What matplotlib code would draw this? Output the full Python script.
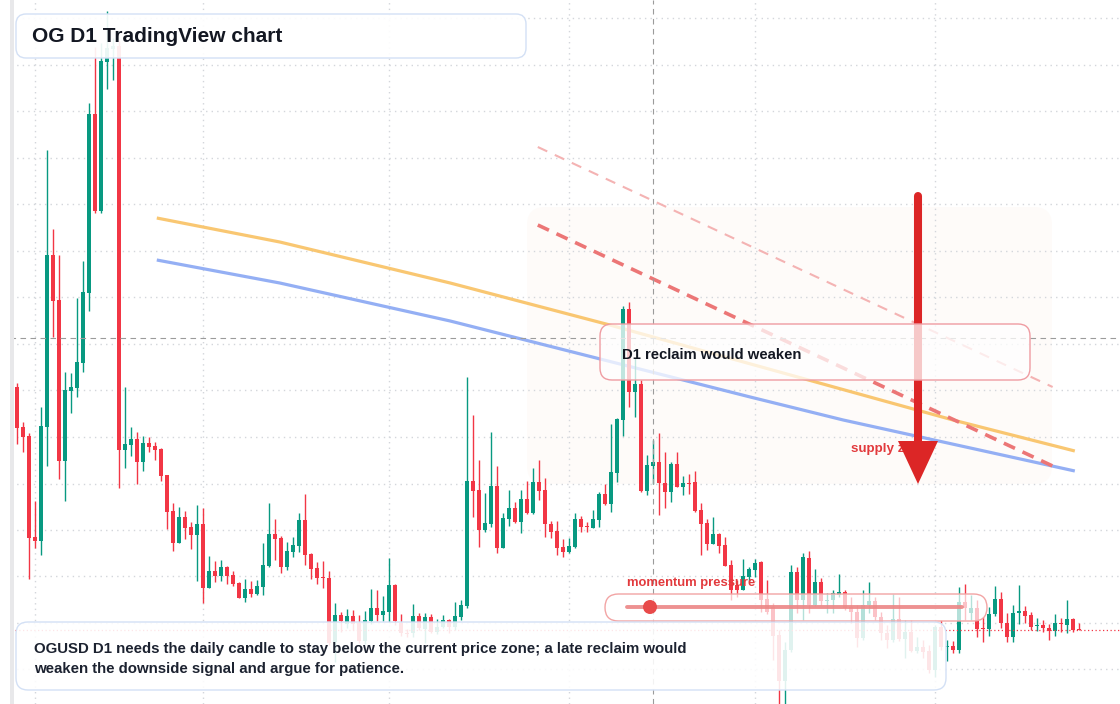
import matplotlib
matplotlib.use("Agg")
import numpy as np
import matplotlib.pyplot as plt
from matplotlib.patches import FancyBboxPatch, Polygon, Rectangle, Circle
from matplotlib.transforms import Affine2D

# OGUSD daily candles (oldest -> newest)
opens = [
    10.13, 9.73, 9.64, 8.63, 8.59, 9.73, 11.45, 11.00, 9.39, 10.09,
    10.12, 10.37, 11.07, 12.86, 11.89, 13.38, 13.51, 13.54, 9.50, 9.55,
    9.61, 9.38, 9.57, 9.54, 9.51, 9.25, 8.89, 8.57, 8.83, 8.73,
    8.65, 8.76, 8.12, 8.29, 8.24, 8.33, 8.25, 8.17, 8.02, 8.11,
    8.06, 8.13, 8.34, 8.66, 8.62, 8.33, 8.48, 8.54, 8.80, 8.46,
    8.32, 8.23, 8.22, 7.58, 7.85, 7.76, 7.84, 7.77, 7.59, 7.79,
    7.92, 7.85, 7.88, 8.15, 7.77, 7.67, 7.67, 7.84, 7.71, 7.83,
    7.68, 7.73, 7.80, 7.73, 7.83, 7.94, 9.19, 9.10, 8.70, 8.76,
    9.14, 8.52, 8.81, 8.92, 8.78, 9.01, 8.87, 9.18, 9.10, 8.76,
    8.69, 8.53, 8.48, 8.53, 8.81, 8.74, 8.72, 8.80, 9.06, 8.96,
    9.27, 9.80, 10.91, 10.08, 10.16, 9.09, 9.34, 9.38, 9.17, 9.08,
    9.36, 9.13, 9.17, 9.18, 8.90, 8.77, 8.56, 8.66, 8.55, 8.35,
    8.15, 8.10, 8.23, 8.30, 8.38, 8.01, 7.93, 7.65, 7.19, 7.50,
    8.28, 8.00, 8.42, 7.95, 8.18, 7.99, 8.00, 8.05, 8.08, 7.93,
    7.88, 7.62, 7.95, 7.99, 7.83, 7.67, 7.60, 7.81, 7.61, 7.68,
    7.49, 7.53, 7.49, 7.30, 7.73, 7.53, 7.54, 7.50, 7.98, 7.87,
    7.92, 7.72, 7.71, 7.86, 8.01, 7.77, 7.63, 7.87, 7.89, 7.85,
    7.74, 7.75, 7.72, 7.69, 7.77, 7.75, 7.81, 7.71,
]
highs = [
    10.17, 9.78, 9.67, 8.99, 9.93, 12.50, 11.71, 11.45, 10.28, 10.27,
    11.02, 11.39, 12.97, 13.53, 13.57, 13.89, 13.62, 13.60, 10.13, 9.73,
    9.68, 9.64, 9.63, 9.58, 9.52, 9.25, 8.97, 8.93, 8.89, 8.78,
    8.95, 8.92, 8.44, 8.39, 8.40, 8.34, 8.29, 8.18, 8.21, 8.19,
    8.20, 8.57, 8.97, 8.81, 8.64, 8.58, 8.63, 8.87, 9.06, 8.47,
    8.38, 8.39, 8.29, 7.97, 7.88, 7.91, 7.90, 7.85, 7.89, 8.11,
    8.10, 8.04, 8.42, 8.16, 7.86, 7.71, 7.96, 7.87, 7.87, 7.86,
    7.81, 7.85, 7.81, 7.98, 8.00, 10.23, 9.85, 9.40, 9.07, 9.68,
    9.34, 8.87, 9.10, 8.98, 9.10, 9.19, 9.32, 9.40, 9.22, 8.79,
    8.79, 8.61, 8.62, 8.87, 8.84, 8.78, 8.90, 9.08, 9.16, 9.76,
    9.82, 10.94, 10.98, 10.42, 10.20, 9.45, 9.60, 9.67, 9.48, 9.38,
    9.48, 9.24, 9.26, 9.29, 8.97, 8.81, 8.83, 8.67, 8.63, 8.40,
    8.20, 8.41, 8.33, 8.41, 8.39, 8.20, 7.97, 7.70, 7.58, 8.35,
    8.33, 8.47, 8.49, 8.31, 8.22, 8.07, 8.10, 8.26, 8.10, 8.03,
    7.95, 8.10, 8.18, 8.03, 7.88, 7.75, 8.06, 8.03, 7.80, 7.80,
    7.63, 7.60, 7.55, 7.75, 7.80, 7.60, 7.59, 8.13, 8.16, 8.05,
    8.00, 7.83, 7.93, 8.14, 8.08, 7.87, 7.95, 8.15, 7.94, 7.88,
    7.82, 7.80, 7.76, 7.86, 7.82, 8.00, 7.82, 7.77,
]
lows = [
    9.56, 9.48, 8.21, 8.52, 8.45, 9.34, 10.63, 9.21, 8.99, 9.87,
    10.03, 10.28, 10.89, 11.87, 11.87, 13.11, 13.20, 9.12, 9.32, 9.44,
    9.16, 9.29, 9.48, 9.40, 9.19, 8.71, 8.49, 8.57, 8.61, 8.51,
    8.19, 7.97, 8.12, 8.18, 8.19, 8.16, 8.14, 8.02, 7.98, 8.03,
    8.05, 8.05, 8.33, 8.40, 8.27, 8.30, 8.43, 8.48, 8.35, 8.21,
    8.16, 8.12, 7.55, 7.38, 7.68, 7.72, 7.70, 7.57, 7.56, 7.76,
    7.79, 7.79, 7.78, 7.75, 7.64, 7.63, 7.63, 7.70, 7.57, 7.67,
    7.66, 7.72, 7.67, 7.70, 7.80, 7.92, 8.83, 8.53, 8.68, 8.73,
    8.47, 8.52, 8.74, 8.77, 8.67, 8.86, 8.86, 9.00, 8.63, 8.62,
    8.45, 8.43, 8.47, 8.52, 8.68, 8.68, 8.72, 8.73, 8.95, 8.88,
    9.18, 9.64, 9.93, 9.83, 9.08, 9.05, 9.16, 8.85, 8.92, 8.98,
    9.13, 9.05, 9.06, 8.88, 8.45, 8.50, 8.56, 8.47, 8.34, 8.00,
    8.03, 8.10, 8.19, 8.23, 7.88, 7.86, 7.40, 6.90, 6.90, 7.48,
    7.87, 7.80, 7.87, 7.94, 7.95, 7.87, 7.87, 8.03, 7.90, 7.77,
    7.53, 7.60, 7.87, 7.80, 7.60, 7.52, 7.58, 7.59, 7.42, 7.48,
    7.47, 7.42, 7.27, 7.23, 7.50, 7.39, 7.47, 7.47, 7.80, 7.80,
    7.63, 7.58, 7.64, 7.84, 7.72, 7.58, 7.58, 7.76, 7.77, 7.70,
    7.69, 7.68, 7.60, 7.64, 7.68, 7.67, 7.68, 7.70,
]
closes = [
    9.72, 9.63, 8.62, 8.59, 9.74, 11.45, 10.99, 9.39, 10.10, 10.13,
    10.38, 11.08, 12.86, 11.89, 13.39, 13.52, 13.54, 9.50, 9.56, 9.61,
    9.38, 9.57, 9.53, 9.50, 9.24, 8.88, 8.57, 8.83, 8.72, 8.65,
    8.76, 8.12, 8.29, 8.24, 8.33, 8.24, 8.16, 8.02, 8.11, 8.06,
    8.14, 8.35, 8.66, 8.61, 8.33, 8.49, 8.55, 8.80, 8.45, 8.31,
    8.22, 8.22, 7.57, 7.85, 7.79, 7.84, 7.76, 7.59, 7.80, 7.92,
    7.85, 7.89, 8.15, 7.79, 7.67, 7.66, 7.84, 7.72, 7.83, 7.68,
    7.73, 7.80, 7.73, 7.84, 7.95, 9.19, 9.09, 8.70, 8.77, 9.14,
    8.52, 8.82, 8.92, 8.78, 9.01, 8.87, 9.18, 9.09, 8.76, 8.68,
    8.52, 8.48, 8.54, 8.81, 8.73, 8.73, 8.81, 9.06, 8.96, 9.28,
    9.81, 10.91, 10.08, 10.16, 9.09, 9.35, 9.38, 9.17, 9.08, 9.36,
    9.13, 9.17, 9.16, 8.89, 8.76, 8.56, 8.66, 8.54, 8.34, 8.10,
    8.10, 8.24, 8.31, 8.37, 8.00, 7.88, 7.64, 7.19, 7.50, 8.28,
    8.00, 8.43, 7.95, 8.18, 7.99, 8.00, 8.07, 8.08, 7.92, 7.88,
    7.62, 7.95, 7.99, 7.83, 7.67, 7.60, 7.81, 7.61, 7.68, 7.49,
    7.53, 7.48, 7.30, 7.73, 7.53, 7.54, 7.50, 7.98, 7.92, 7.92,
    7.71, 7.71, 7.86, 8.01, 7.77, 7.63, 7.87, 7.89, 7.84, 7.73,
    7.75, 7.72, 7.69, 7.77, 7.76, 7.81, 7.70, 7.70,
]

# moving averages at a few candle positions
ma_orange_x = [23.3, 43.8, 72.2, 98.8, 156.0, 176.3]
ma_orange = [11.82, 11.58, 11.17, 10.75, 9.80, 9.49]
ma_blue_x = [23.3, 43.8, 72.2, 122.2, 137.7, 176.3]
ma_blue = [11.40, 11.17, 10.79, 10.03, 9.80, 9.29]

# descending trend lines
trend_x = [86.8, 172.6]
trend_main = [11.75, 9.34]
trend_upper = [12.53, 10.13]

crosshair_x = 106
crosshair_price = 10.62
month_starts = [3, 31, 62, 92, 123, 153]
grid_levels = [13.815, 13.35, 12.885, 12.42, 11.955, 11.49, 11.025, 10.56,
               10.095, 9.63, 9.165, 8.70, 8.235, 7.77, 7.305]

GREEN = "#089981"
RED = "#f23645"
DARK = "#131722"

plt.rcParams["font.family"] = ["Liberation Sans", "DejaVu Sans"]

W, H = 1120, 704
fig = plt.figure(figsize=(W / 100, H / 100), dpi=100)
ax = fig.add_axes([0, 0, 1, 1])
ax.set_xlim(-2.83, 183.83)
ax.set_ylim(6.96, 14.0)
for s in ax.spines.values():
    s.set_visible(False)
ax.set_xticks(month_starts)
ax.set_yticks(grid_levels)
ax.tick_params(length=0, labelbottom=False, labelleft=False)
ax.set_axisbelow(True)
ax.grid(True, color="#d3d6db", linestyle=(0, (1, 3)), linewidth=1)

# pixel space (origin top-left) for overlay drawings
px = Affine2D().scale(1 / W, -1 / H).translate(0, 1) + ax.transAxes


def box(x, y, w, h, r, fc, ec, alpha=1.0, z=7, lw=1.0):
    p = FancyBboxPatch((x, y), w, h, boxstyle=f"round,pad=0,rounding_size={r}",
                       transform=px, facecolor=fc, edgecolor=ec, linewidth=lw, zorder=z)
    p.set_facecolor(matplotlib.colors.to_rgba(fc, alpha))
    ax.add_patch(p)


# supply zone shading
box(527, 207, 525, 277, 18, "#fefbf9", "none", z=0.2)

# candles
o = np.array(opens)
c = np.array(closes)
hi = np.array(highs)
lo = np.array(lows)
x = np.arange(len(o))
cols = np.where(c >= o, GREEN, RED)
ax.vlines(x, lo, hi, colors=cols, linewidth=1, zorder=3)
body = np.maximum(np.abs(c - o), 0.012)
ax.bar(x, body, bottom=np.minimum(o, c), width=0.8, color=cols, linewidth=0, zorder=3.1)

# moving averages and trend lines
ax.plot(ma_orange_x, ma_orange, color="#f9c46a", lw=2.3, alpha=0.95, zorder=2.5,
        solid_capstyle="butt")
ax.plot(ma_blue_x, ma_blue, color="#8eabf4", lw=2.3, alpha=0.95, zorder=2.5,
        solid_capstyle="butt")
ax.plot(trend_x, trend_upper, color="#f4b3b3", lw=1.5, linestyle=(0, (5, 4)), zorder=2.6)
ax.plot(trend_x, trend_main, color="#ec7676", lw=2.6, linestyle=(0, (3.4, 2.3)), zorder=2.6)

# crosshair and last price line
ax.axhline(crosshair_price, color="#9b9b9b", lw=0.8, linestyle=(0, (5, 4)), zorder=4)
ax.axvline(crosshair_x, color="#9b9b9b", lw=0.8, linestyle=(0, (5, 4)), zorder=4)
ax.axhline(closes[-1], color=RED, lw=0.9, linestyle=(0, (1, 2)), zorder=3.5)

# supply arrow
ax.text(851, 449, "supply zone", transform=px, fontsize=9.6, fontweight="bold",
        color="#e23a3d", va="center", ha="left", zorder=5)
ax.plot([918, 918], [196, 446], transform=px, color="#dc2626", lw=5.8,
        solid_capstyle="round", zorder=6)
ax.add_patch(Polygon([(898, 441), (938, 441), (918, 484)], closed=True,
                     transform=px, facecolor="#dc2626", edgecolor="none", zorder=6))

# reclaim note
box(600, 324, 430, 56, 12, "white", "#ef9ca2", alpha=0.75, z=7)
ax.text(622, 355, "D1 reclaim would weaken", transform=px, fontsize=10.7,
        fontweight="bold", color=DARK, va="center", ha="left", zorder=9)

# momentum gauge
box(605, 594, 382, 27, 13.5, "white", "#f2a4a4", alpha=0.7, z=7)
ax.plot([627, 962], [607, 607], transform=px, color="#ec8585", lw=2.8, alpha=0.9,
        solid_capstyle="round", zorder=8)
ax.add_patch(Circle((650, 607), 7, transform=px, facecolor="#e84a4a",
                    edgecolor="none", zorder=8.5))
ax.text(627, 583, "momentum pressure", transform=px, fontsize=9.4, fontweight="bold",
        color="#e23a3d", va="center", ha="left", zorder=9)

# title and bottom notes
box(16, 14, 510, 44, 10, "white", "#d3e0f5", alpha=0.92, z=8)
ax.text(32, 37, "OG D1 TradingView chart", transform=px, fontsize=15,
        fontweight="bold", color=DARK, va="center", ha="left", zorder=9)

box(16, 622, 930, 68, 12, "white", "#d3e0f5", alpha=0.88, z=8)
ax.text(34, 659,
        "OGUSD D1 needs the daily candle to stay below the current price zone; a late reclaim would\n"
        "weaken the downside signal and argue for patience.",
        transform=px, fontsize=10.8, fontweight="bold", color="#1c2230",
        va="center", ha="left", linespacing=1.47, zorder=9)

# left frame edge
ax.add_patch(Rectangle((0, 0), 10, H, transform=px, facecolor="white",
                       edgecolor="none", zorder=10))
ax.add_patch(Rectangle((10, 0), 4, H, transform=px, facecolor="#e8e8ea",
                       edgecolor="none", zorder=10))

fig.savefig("out.png", dpi=100)
